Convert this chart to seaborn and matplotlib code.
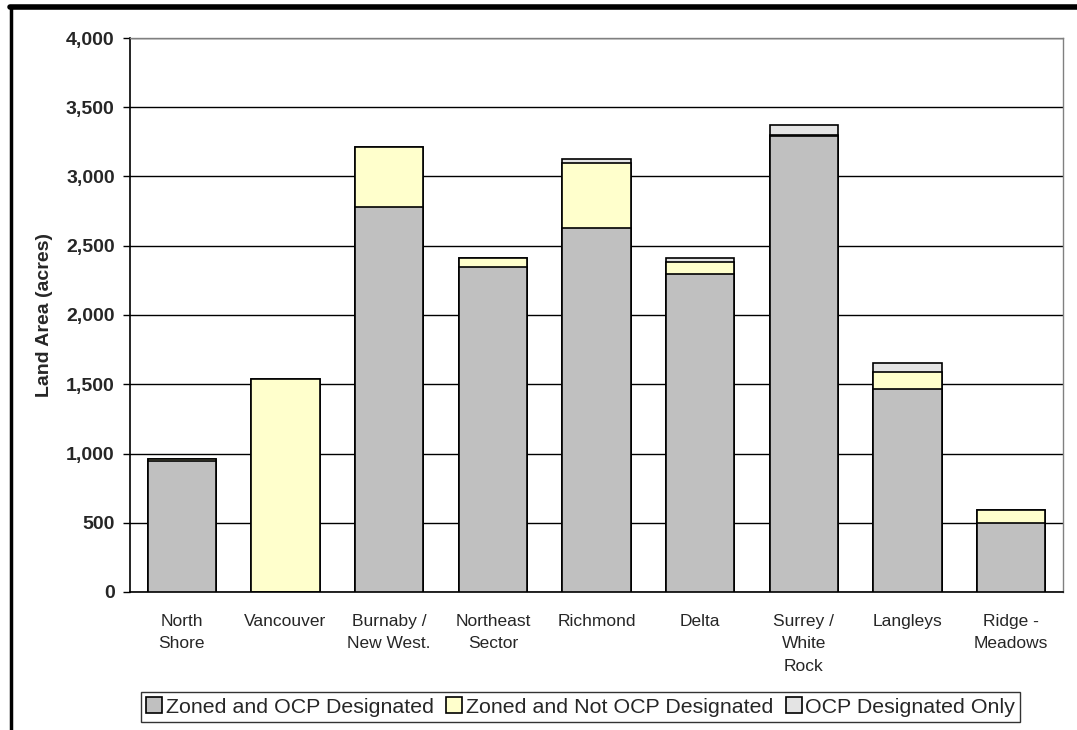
import numpy as np
import pandas as pd
import matplotlib
matplotlib.use("Agg")
import matplotlib.pyplot as plt
from matplotlib.lines import Line2D
from matplotlib.patches import Patch
from matplotlib import font_manager
import seaborn as sns

# Land area by sub-region (acres)
regions = ["North\nShore", "Vancouver", "Burnaby /\nNew West.", "Northeast\nSector",
           "Richmond", "Delta", "Surrey /\nWhite\nRock", "Langleys", "Ridge -\nMeadows"]
zoned_ocp = [945, 0, 2780, 2350, 2630, 2295, 3290, 1465, 500]
zoned_not_ocp = [15, 1535, 430, 60, 465, 85, 10, 120, 90]
ocp_only = [0, 0, 5, 5, 30, 30, 75, 70, 0]
series_names = ["Zoned and OCP Designated", "Zoned and Not OCP Designated", "OCP Designated Only"]
series_colors = ["#C0C0C0", "#FFFFCC", "#E4E4E4"]
yticks = [0, 500, 1000, 1500, 2000, 2500, 3000, 3500, 4000]

sns.set_theme(style="white")
names = {f.name for f in font_manager.fontManager.ttflist}
base_font = "Liberation Sans" if "Liberation Sans" in names else "DejaVu Sans"
narrow_font = "Liberation Sans Narrow" if "Liberation Sans Narrow" in names else base_font
plt.rcParams["font.family"] = [base_font, "DejaVu Sans"]

df = pd.DataFrame({
    "region": regions,
    "zoned_ocp": zoned_ocp,
    "zoned_not_ocp": zoned_not_ocp,
    "ocp_only": ocp_only,
})
df["lvl1"] = df["zoned_ocp"]
df["lvl2"] = df["lvl1"] + df["zoned_not_ocp"]
df["lvl3"] = df["lvl2"] + df["ocp_only"]

fig = plt.figure(figsize=(10.77, 7.30), dpi=100)
ax = fig.add_axes([130 / 1077, 1 - 592 / 730, (1063 - 130) / 1077, (592 - 38) / 730])

# Stacked bars drawn as overlapping cumulative totals, tallest first
for col, color in zip(["lvl3", "lvl2", "lvl1"], series_colors[::-1]):
    sns.barplot(data=df, x="region", y=col, color=color, width=0.66,
                edgecolor="black", linewidth=1.2, saturation=1, ax=ax, zorder=3)

ax.set_ylim(0, 4000)
ax.set_xlim(-0.5, len(regions) - 0.5)
ax.set_yticks(yticks)
ax.set_yticklabels([f"{v:,}" for v in yticks], fontsize=14, fontweight="bold",
                   family=base_font)
ax.yaxis.grid(True, color="black", linewidth=1.0, zorder=0)
ax.set_axisbelow(True)

ax.set_xticks(range(len(regions)))
ax.set_xticklabels(regions, fontsize=12.5, family=narrow_font, linespacing=1.6, va="top")
ax.set_xticks(np.arange(len(regions) + 1) - 0.5, minor=True)
ax.tick_params(axis="x", which="major", length=0, pad=16)
ax.tick_params(axis="x", which="minor", length=5, width=1, color="black", direction="out")
ax.tick_params(axis="y", length=5, width=1, color="black", direction="out", left=True, pad=6)

ax.set_xlabel("")
ax.set_ylabel("Land Area (acres)", fontsize=14, fontweight="bold", labelpad=9)

for side in ["left", "bottom"]:
    ax.spines[side].set_color("black")
    ax.spines[side].set_linewidth(1.2)
for side in ["top", "right"]:
    ax.spines[side].set_color("#808080")
    ax.spines[side].set_linewidth(1.0)

handles = [Patch(facecolor=c, edgecolor="black", linewidth=1.2) for c in series_colors]
leg = fig.legend(handles, series_names, loc="lower left",
                 bbox_to_anchor=(141 / 1077, 1 - 722 / 730), ncol=3,
                 frameon=True, fancybox=False, edgecolor="black",
                 prop={"family": narrow_font, "size": 15.4},
                 handlelength=0.75, handleheight=0.75, handletextpad=0.15,
                 columnspacing=0.6, borderpad=0.25, borderaxespad=0)
leg.get_frame().set_linewidth(1.0)

# Outer frame of the figure
fig.add_artist(Line2D([10 / 1077, 1.0], [1 - 7 / 730, 1 - 7 / 730],
                      color="black", linewidth=4, transform=fig.transFigure))
fig.add_artist(Line2D([11 / 1077, 11 / 1077], [0, 1 - 7 / 730],
                      color="black", linewidth=2.5, transform=fig.transFigure))

fig.savefig("out.png", dpi=100, facecolor="white")
